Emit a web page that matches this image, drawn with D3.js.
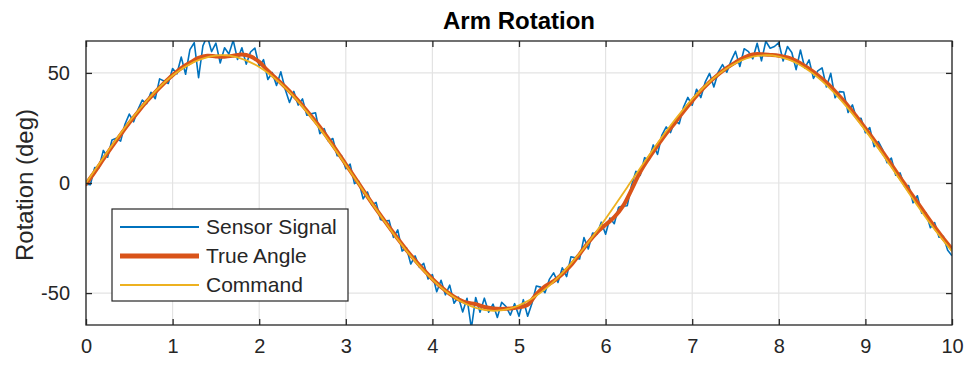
<!DOCTYPE html>
<html>
<head>
<meta charset="utf-8">
<script src="https://cdn.jsdelivr.net/npm/d3@7"></script>
<style>
  html, body { margin: 0; padding: 0; background: #fff; }
  svg { display: block; font-family: "Liberation Sans", Arial, Helvetica, sans-serif; }
</style>
</head>
<body>
<svg id="chart" width="971" height="370"></svg>
<script>
// ---- data ----
const chartTitle = "Arm Rotation";
const yAxisLabel = "Rotation (deg)";
const seriesNames = ["Sensor Signal", "True Angle", "Command"];
const xTickValues = [0, 1, 2, 3, 4, 5, 6, 7, 8, 9, 10];
const yTickValues = [-50, 0, 50];
const xDomain = [0, 10];
const yDomain = [-64.5, 64.5];

// Sensor signal, sampled every 0.05 s
const sensorStep = 0.05;
const sensorValues = [
  -0.5, -0.8, 7.0, 6.9, 14.8, 11.7, 19.5, 20.3, 19.0, 26.7,
  31.3, 27.8, 33.3, 37.7, 36.0, 41.2, 38.3, 47.3, 46.3, 45.2,
  52.0, 49.6, 57.2, 49.4, 60.6, 63.7, 47.8, 62.3, 66.8, 59.7,
  63.5, 54.5, 61.4, 58.6, 64.8, 56.1, 61.4, 54.0, 59.5, 61.3,
  53.0, 56.0, 47.0, 50.2, 44.3, 50.5, 42.6, 36.6, 41.6, 35.4,
  38.2, 30.8, 31.4, 31.9, 22.4, 24.7, 19.0, 20.2, 12.4, 12.5,
  6.5, 8.6, -0.3, 0.8, -7.2, -4.1, -10.0, -8.8, -16.6, -17.3,
  -17.0, -24.7, -21.3, -30.9, -29.4, -36.8, -33.1, -38.3, -36.5, -43.6,
  -41.6, -49.4, -44.2, -50.8, -46.4, -54.6, -51.8, -58.6, -52.4, -66.0,
  -52.0, -58.7, -52.3, -58.7, -55.0, -61.1, -54.2, -56.1, -60.0, -54.8,
  -60.5, -53.0, -60.5, -54.6, -46.8, -47.3, -49.8, -43.8, -40.8, -45.2,
  -38.5, -42.5, -33.5, -34.0, -34.5, -24.8, -30.0, -22.7, -23.3, -17.8,
  -23.3, -15.9, -18.5, -11.0, -10.5, -10.3, -1.0, 5.3, 3.5, 11.5,
  10.5, 17.3, 13.0, 21.8, 25.5, 22.9, 28.3, 26.9, 34.5, 38.9,
  35.3, 42.6, 38.8, 45.8, 49.8, 43.6, 50.3, 53.8, 50.3, 55.6,
  59.8, 52.9, 61.0, 59.7, 56.4, 63.5, 55.5, 64.4, 61.2, 62.0,
  63.8, 55.4, 62.0, 59.3, 51.5, 60.4, 52.2, 55.9, 47.5, 50.9,
  52.3, 43.6, 49.8, 38.7, 41.5, 41.3, 32.0, 35.5, 29.0, 29.4,
  22.8, 25.2, 16.5, 18.8, 15.0, 9.2, 11.3, 3.5, 4.6, -1.3,
  -1.2, -9.0, -5.8, -13.7, -13.5, -20.3, -18.0, -24.6, -24.2, -30.6,
  -33.0
];

// True angle, sampled every 0.1 s
const trueStep = 0.1;
const trueValues = [
  -0.5, 5.0, 10.8, 16.5, 22.0, 27.3, 32.3, 37.0, 41.3, 45.3,
  49.0, 52.2, 54.6, 56.8, 57.8, 57.5, 57.4, 57.8, 58.4, 57.5,
  55.0, 51.0, 47.3, 43.6, 39.6, 35.2, 30.4, 25.4, 20.0, 14.4,
  8.5, 2.7, -3.2, -9.0, -14.6, -20.0, -25.3, -30.4, -35.1, -39.5,
  -43.6, -47.2, -50.4, -52.8, -54.4, -55.0, -56.3, -57.0, -57.2, -57.0,
  -56.5, -55.3, -50.5, -47.0, -44.6, -41.3, -37.3, -32.3, -27.0, -22.5,
  -19.0, -15.5, -10.5, -3.0, 5.0, 11.3, 17.0, 22.5, 27.3, 32.5,
  37.3, 41.8, 45.8, 49.3, 52.3, 54.8, 57.0, 58.4, 58.5, 58.2,
  57.8, 57.0, 55.5, 53.2, 50.5, 47.3, 43.8, 39.5, 35.0, 30.0,
  24.8, 19.5, 14.0, 8.3, 2.6, -3.2, -8.8, -14.5, -20.0, -25.2,
  -30.0
];

// Command, sampled every 0.25 s
const commandStep = 0.25;
const commandValues = [
  0.0, 14.3, 27.8, 39.5, 48.8, 55.0, 57.9, 57.1, 52.7, 45.1,
  34.7, 22.1, 8.2, -6.3, -20.3, -33.2, -43.9, -51.9, -56.7, -58.0,
  -55.6, -49.8, -40.9, -29.5, -16.2, -1.9, 12.5, 26.1, 38.1, 47.7,
  54.4, 57.7, 57.4, 53.5, 46.3, 36.2, 23.9, 10.1, -4.4, -18.5,
  -31.0
];

const seriesColors = ["#0072BD", "#D95319", "#EDB120"];

// ---- layout ----
const W = 971, H = 370;
const plot = { left: 86, right: 952, top: 41, bottom: 325 };
const axisColor = "#262626";
const gridColor = "#e3e3e3";
const tickFont = 20;

const svg = d3.select("#chart");
svg.append("rect").attr("width", W).attr("height", H).attr("fill", "#fff");

const x = d3.scaleLinear().domain(xDomain).range([plot.left, plot.right]);
const y = d3.scaleLinear().domain(yDomain).range([plot.bottom, plot.top]);

// clip
svg.append("defs").append("clipPath").attr("id", "plotClip")
  .append("rect")
  .attr("x", plot.left).attr("y", plot.top)
  .attr("width", plot.right - plot.left).attr("height", plot.bottom - plot.top);

// grid
const grid = svg.append("g");
grid.selectAll("line.gx").data(xTickValues).join("line")
  .attr("x1", d => x(d)).attr("x2", d => x(d))
  .attr("y1", plot.top).attr("y2", plot.bottom)
  .attr("stroke", gridColor).attr("stroke-width", 1.2);
grid.selectAll("line.gy").data(yTickValues).join("line")
  .attr("class", "gy")
  .attr("x1", plot.left).attr("x2", plot.right)
  .attr("y1", d => y(d)).attr("y2", d => y(d))
  .attr("stroke", gridColor).attr("stroke-width", 1.2);

// series
const gData = svg.append("g").attr("clip-path", "url(#plotClip)");
const sensorPts = sensorValues.map((v, i) => [i * sensorStep, v]);
const truePts = trueValues.map((v, i) => [i * trueStep, v]);
const cmdPts = commandValues.map((v, i) => [i * commandStep, v]);

const lineLinear = d3.line().x(d => x(d[0])).y(d => y(d[1]));
const lineSmooth = d3.line().x(d => x(d[0])).y(d => y(d[1])).curve(d3.curveCatmullRom.alpha(0.5));
const lineNatural = d3.line().x(d => x(d[0])).y(d => y(d[1])).curve(d3.curveNatural);

gData.append("path").attr("d", lineLinear(sensorPts))
  .attr("fill", "none").attr("stroke", seriesColors[0]).attr("stroke-width", 1.6)
  .attr("stroke-linejoin", "round");
gData.append("path").attr("d", lineSmooth(truePts))
  .attr("fill", "none").attr("stroke", seriesColors[1]).attr("stroke-width", 4)
  .attr("stroke-linejoin", "round").attr("stroke-linecap", "round");
gData.append("path").attr("d", lineNatural(cmdPts))
  .attr("fill", "none").attr("stroke", seriesColors[2]).attr("stroke-width", 1.8);

// axes (MATLAB box style with inward ticks)
const tickLen = 6;
const fmt = d => String(d);
const xAxisBottom = d3.axisBottom(x).tickValues(xTickValues).tickSize(-tickLen).tickPadding(14).tickFormat(fmt);
const xAxisTop = d3.axisTop(x).tickValues(xTickValues).tickSize(-tickLen).tickFormat("");
const yAxisLeft = d3.axisLeft(y).tickValues(yTickValues).tickSize(-tickLen).tickPadding(16).tickFormat(fmt);
const yAxisRight = d3.axisRight(y).tickValues(yTickValues).tickSize(-tickLen).tickFormat("");

function styleAxis(g) {
  g.select(".domain").remove();
  g.selectAll(".tick line").attr("stroke", axisColor).attr("stroke-width", 1.3);
  g.selectAll(".tick text").attr("fill", axisColor).attr("font-size", tickFont)
    .attr("font-family", "'Liberation Sans', Arial, sans-serif");
}
svg.append("g").attr("transform", `translate(0,${plot.bottom})`).call(xAxisBottom).call(styleAxis);
svg.append("g").attr("transform", `translate(0,${plot.top})`).call(xAxisTop).call(styleAxis);
svg.append("g").attr("transform", `translate(${plot.left},0)`).call(yAxisLeft).call(styleAxis);
svg.append("g").attr("transform", `translate(${plot.right},0)`).call(yAxisRight).call(styleAxis);

// box
svg.append("rect")
  .attr("x", plot.left).attr("y", plot.top)
  .attr("width", plot.right - plot.left).attr("height", plot.bottom - plot.top)
  .attr("fill", "none").attr("stroke", axisColor).attr("stroke-width", 1.3);

// title
svg.append("text")
  .attr("x", (plot.left + plot.right) / 2).attr("y", 29)
  .attr("text-anchor", "middle")
  .attr("font-size", 24).attr("font-weight", "bold").attr("fill", "#000")
  .text(chartTitle);

// y label
svg.append("text")
  .attr("transform", `translate(33,${(plot.top + plot.bottom) / 2 + 2}) rotate(-90)`)
  .attr("text-anchor", "middle")
  .attr("font-size", 24).attr("fill", axisColor)
  .text(yAxisLabel);

// legend
const legend = svg.append("g");
legend.append("rect")
  .attr("x", 112).attr("y", 209).attr("width", 236).attr("height", 92)
  .attr("fill", "#fff").attr("stroke", axisColor).attr("stroke-width", 1.2);
const legendWidths = [2, 5, 2];
seriesNames.forEach((name, i) => {
  const cy = 227 + i * 29;
  legend.append("line")
    .attr("x1", 120).attr("x2", 199).attr("y1", cy).attr("y2", cy)
    .attr("stroke", seriesColors[i]).attr("stroke-width", legendWidths[i]);
  legend.append("text")
    .attr("x", 206).attr("y", cy + 7)
    .attr("font-size", 21).attr("fill", axisColor)
    .text(name);
});
</script>
</body>
</html>
